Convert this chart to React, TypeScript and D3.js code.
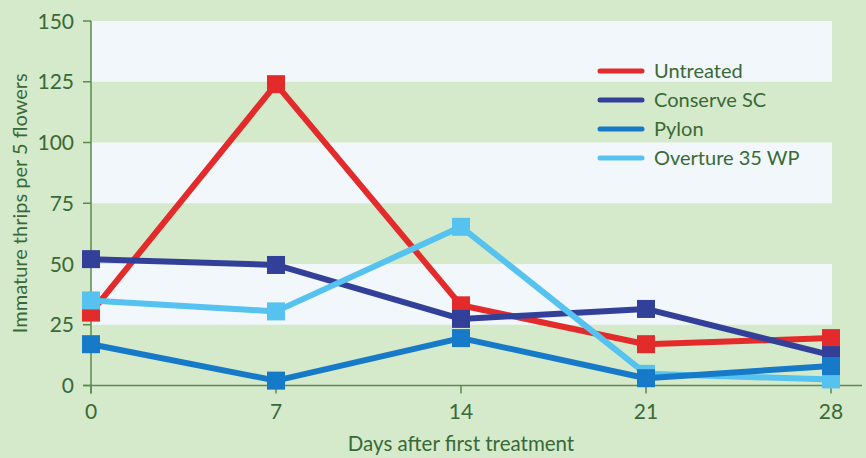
import React from "react";
import * as d3 from "d3";

const days = [0, 7, 14, 21, 28];
const yTicks = [0, 25, 50, 75, 100, 125, 150];
const untreated = [30, 124, 33, 17, 19.5];
const conserveSC = [52, 49.6, 27.4, 31.5, 12.5];
const pylon = [17, 2, 19.5, 3, 8];
const overture = [35, 30.5, 65.3, 4.8, 2.5];

const seriesNames = ["Untreated", "Conserve SC", "Pylon", "Overture 35 WP"];
const seriesColors = ["#e42b2c", "#33409a", "#167ac9", "#55c2ef"];
const seriesValues = [untreated, conserveSC, pylon, overture];
// drawing order: red, dark blue, light blue, then mid blue on top
const drawOrder = [0, 1, 3, 2];

const W = 866;
const H = 458;
const BG = "#d5e9cb";
const BAND = "#f1f7fa";
const TEXT = "#386a37";
const AXIS = "#5b8a4c";
const FONT = "Lato, 'Open Sans', sans-serif";

export default function App() {
  const x = d3.scaleLinear().domain([0, 28]).range([91, 831]);
  const y = d3.scaleLinear().domain([0, 150]).range([385.5, 21]);
  const line = d3
    .line<number>()
    .x((_, i) => x(days[i]))
    .y((v) => y(v));
  const m = 18;

  const bands = [
    [125, 150],
    [75, 100],
    [25, 50],
  ];

  return (
    <svg
      width={W}
      height={H}
      style={{ position: "absolute", left: 0, top: 0, display: "block" }}
      fontFamily={FONT}
    >
      <rect x={0} y={0} width={W} height={H} fill={BG} />
      {bands.map(([a, b], i) => (
        <rect key={i} x={x(0)} y={y(b)} width={832 - x(0)} height={y(a) - y(b)} fill={BAND} />
      ))}

      {/* y axis */}
      <line x1={x(0)} x2={x(0)} y1={y(150)} y2={y(0) + 8} stroke={AXIS} strokeWidth={1.5} />
      {yTicks.map((t) => (
        <g key={t}>
          <line x1={x(0) - 8} x2={x(0)} y1={y(t)} y2={y(t)} stroke={AXIS} strokeWidth={1.5} />
          <text x={74} y={y(t)} dy="0.36em" textAnchor="end" fontSize={21} fill={TEXT}>
            {t}
          </text>
        </g>
      ))}
      {/* x axis */}
      <line x1={x(0) - 8} x2={862} y1={y(0)} y2={y(0)} stroke={AXIS} strokeWidth={1.5} />
      {days.map((d) => (
        <g key={d}>
          <line x1={x(d)} x2={x(d)} y1={y(0)} y2={y(0) + 8} stroke={AXIS} strokeWidth={1.5} />
          <text x={x(d)} y={411} dy="0.36em" textAnchor="middle" fontSize={21} fill={TEXT}>
            {d}
          </text>
        </g>
      ))}
      <text x={x(14)} y={444} dy="0.36em" textAnchor="middle" fontSize={20.5} fill={TEXT}>
        Days after first treatment
      </text>
      <text
        transform={`translate(20, ${(y(0) + y(150)) / 2}) rotate(-90)`}
        dy="0.36em"
        textAnchor="middle"
        fontSize={20}
        fill={TEXT}
      >
        Immature thrips per 5 flowers
      </text>

      {/* series */}
      {drawOrder.map((si) => (
        <g key={si}>
          <path d={line(seriesValues[si]) || ""} fill="none" stroke={seriesColors[si]} strokeWidth={6} strokeLinejoin="round" />
          {seriesValues[si].map((v, i) => (
            <rect key={i} x={x(days[i]) - m / 2} y={y(v) - m / 2} width={m} height={m} fill={seriesColors[si]} />
          ))}
        </g>
      ))}

      {/* legend */}
      {seriesNames.map((n, i) => (
        <g key={n} transform={`translate(600, ${71 + i * 29})`}>
          <line x1={0} x2={42} y1={0} y2={0} stroke={seriesColors[i]} strokeWidth={5} strokeLinecap="round" />
          <text x={54} y={0} dy="0.36em" fontSize={20} fill={TEXT}>
            {n}
          </text>
        </g>
      ))}
    </svg>
  );
}
